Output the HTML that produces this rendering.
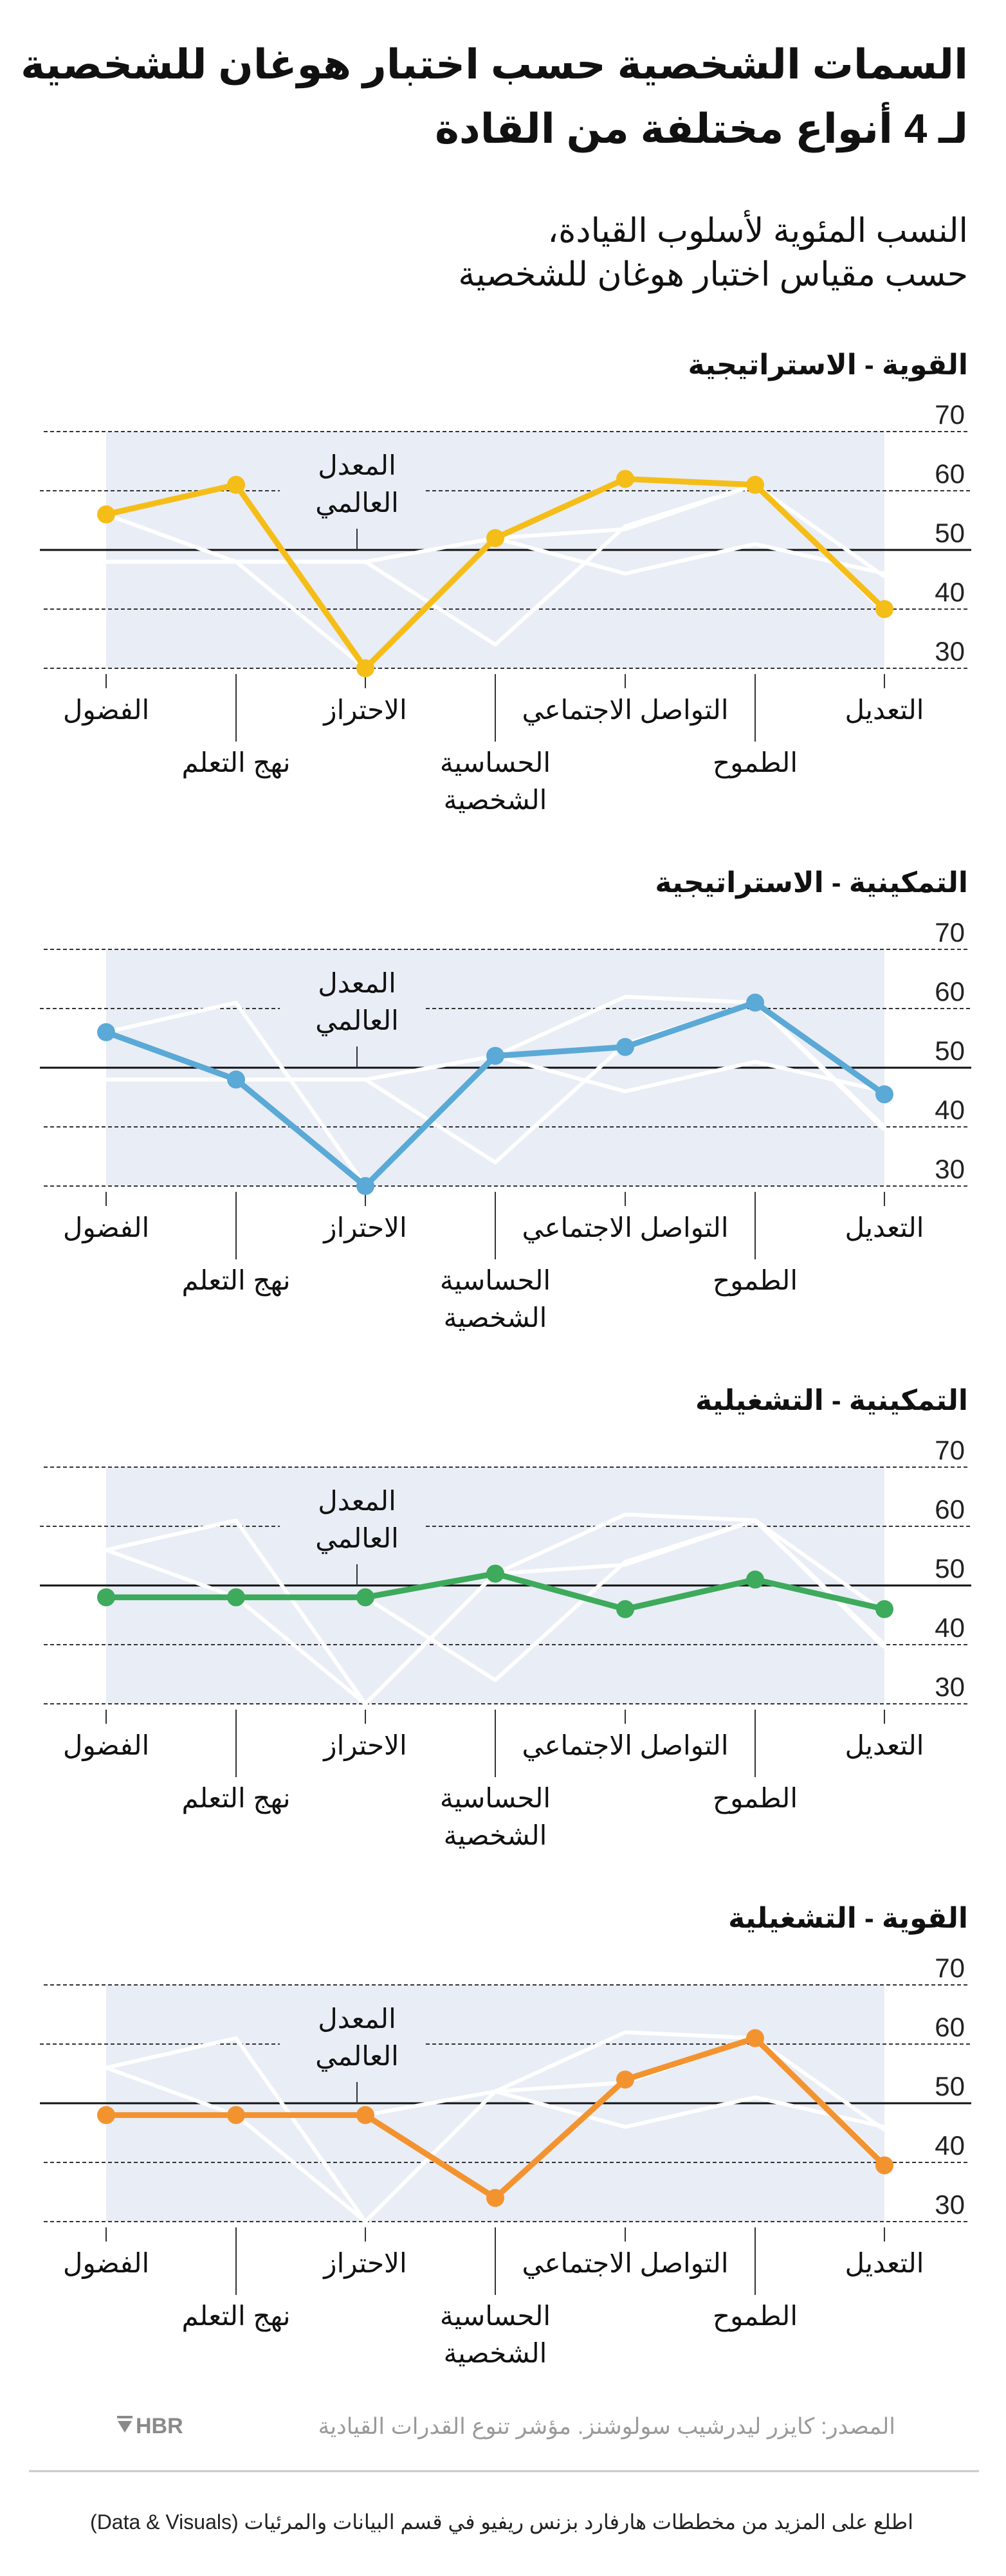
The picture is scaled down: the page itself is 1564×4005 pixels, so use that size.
<!DOCTYPE html>
<html><head><meta charset="utf-8">
<style>
html,body{margin:0;padding:0;background:#fff;}
svg{display:block;}
text{font-family:"Liberation Sans","Noto Sans CJK SC","DejaVu Sans",sans-serif;}
</style></head>
<body>
<svg width="1564" height="4005" viewBox="0 0 1564 4005" xmlns="http://www.w3.org/2000/svg">
<rect width="1564" height="4005" fill="#fff"/>
<text x="1505" y="122" text-anchor="start" font-size="64" font-weight="bold" fill="#111" direction="rtl">السمات الشخصية حسب اختبار هوغان للشخصية</text>
<text x="1505" y="222" text-anchor="start" font-size="64" font-weight="bold" fill="#111" direction="rtl">لـ 4 أنواع مختلفة من القادة</text>
<text x="1505" y="376" text-anchor="start" font-size="52" fill="#111" direction="rtl">النسب المئوية لأسلوب القيادة،</text>
<text x="1505" y="444" text-anchor="start" font-size="52" fill="#111" direction="rtl">حسب مقياس اختبار هوغان للشخصية</text>

<defs>
<g id="frame">
  <rect x="165" y="671" width="1210" height="368" fill="#E9EDF5"/>
  <g stroke="#333" stroke-width="2" stroke-dasharray="6 4">
    <line x1="68" y1="671" x2="1508" y2="671"/>
    <line x1="62" y1="763" x2="435" y2="763"/>
    <line x1="662" y1="763" x2="1508" y2="763"/>
    <line x1="68" y1="947" x2="1508" y2="947"/>
    <line x1="68" y1="1039" x2="1508" y2="1039"/>
  </g>
  <line x1="62" y1="855" x2="1510" y2="855" stroke="#111" stroke-width="3"/>
  <line x1="555" y1="822" x2="555" y2="855" stroke="#333" stroke-width="2"/>
  <g font-size="42" fill="#222" text-anchor="end">
    <text x="1500" y="659">70</text>
    <text x="1500" y="751">60</text>
    <text x="1500" y="843">50</text>
    <text x="1500" y="935">40</text>
    <text x="1500" y="1027">30</text>
  </g>
  <g font-size="42" fill="#111" text-anchor="middle" direction="rtl">
    <text x="555" y="738">المعدل</text>
    <text x="555" y="796">العالمي</text>
  </g>
  <g stroke="#333" stroke-width="2">
    <line x1="165" y1="1048" x2="165" y2="1070"/>
    <line x1="568" y1="1048" x2="568" y2="1070"/>
    <line x1="972" y1="1048" x2="972" y2="1070"/>
    <line x1="1375" y1="1048" x2="1375" y2="1070"/>
    <line x1="367" y1="1048" x2="367" y2="1153"/>
    <line x1="770" y1="1048" x2="770" y2="1153"/>
    <line x1="1174" y1="1048" x2="1174" y2="1153"/>
  </g>
  <g font-size="42" fill="#111" text-anchor="middle" direction="rtl">
    <text x="165" y="1118">الفضول</text>
    <text x="568" y="1118">الاحتراز</text>
    <text x="972" y="1118">التواصل الاجتماعي</text>
    <text x="1375" y="1118">التعديل</text>
    <text x="367" y="1200">نهج التعلم</text>
    <text x="770" y="1200">الحساسية</text>
    <text x="1174" y="1200">الطموح</text>
    <text x="770" y="1258">الشخصية</text>
  </g>
</g>
<polyline id="sY" points="165,799.8 367,753.8 568,1039 770,836.6 972,744.6 1174,753.8 1375,947"/>
<polyline id="sB" points="165,799.8 367,873.4 568,1039 770,836.6 972,822.8 1174,753.8 1375,896.4"/>
<polyline id="sG" points="165,873.4 367,873.4 568,873.4 770,836.6 972,891.8 1174,845.8 1375,891.8"/>
<polyline id="sO" points="165,873.4 367,873.4 568,873.4 770,1002.2 972,818.2 1174,753.8 1375,951.6"/>
</defs>

<!-- Chart 1 -->
<g>
  <text x="1505" y="582" text-anchor="start" font-size="44" font-weight="bold" fill="#111" direction="rtl">القوية - الاستراتيجية</text>
  <use href="#frame"/>
  <g fill="none" stroke="#fff" stroke-width="6" stroke-linejoin="round"><use href="#sB"/><use href="#sG"/><use href="#sO"/></g>
  <g fill="none" stroke="#F5BD18" stroke-width="9" stroke-linejoin="round"><use href="#sY"/></g>
  <g fill="#F5BD18"><circle cx="165" cy="799.8" r="14"/><circle cx="367" cy="753.8" r="14"/><circle cx="568" cy="1039" r="14"/><circle cx="770" cy="836.6" r="14"/><circle cx="972" cy="744.6" r="14"/><circle cx="1174" cy="753.8" r="14"/><circle cx="1375" cy="947" r="14"/></g>
</g>

<!-- Chart 2 -->
<g transform="translate(0,805)">
  <text x="1505" y="582" text-anchor="start" font-size="44" font-weight="bold" fill="#111" direction="rtl">التمكينية - الاستراتيجية</text>
  <use href="#frame"/>
  <g fill="none" stroke="#fff" stroke-width="6" stroke-linejoin="round"><use href="#sY"/><use href="#sG"/><use href="#sO"/></g>
  <g fill="none" stroke="#5AA9D6" stroke-width="9" stroke-linejoin="round"><use href="#sB"/></g>
  <g fill="#5AA9D6"><circle cx="165" cy="799.8" r="14"/><circle cx="367" cy="873.4" r="14"/><circle cx="568" cy="1039" r="14"/><circle cx="770" cy="836.6" r="14"/><circle cx="972" cy="822.8" r="14"/><circle cx="1174" cy="753.8" r="14"/><circle cx="1375" cy="896.4" r="14"/></g>
</g>

<!-- Chart 3 -->
<g transform="translate(0,1610)">
  <text x="1505" y="582" text-anchor="start" font-size="44" font-weight="bold" fill="#111" direction="rtl">التمكينية - التشغيلية</text>
  <use href="#frame"/>
  <g fill="none" stroke="#fff" stroke-width="6" stroke-linejoin="round"><use href="#sY"/><use href="#sB"/><use href="#sO"/></g>
  <g fill="none" stroke="#3DAA5C" stroke-width="9" stroke-linejoin="round"><use href="#sG"/></g>
  <g fill="#3DAA5C"><circle cx="165" cy="873.4" r="14"/><circle cx="367" cy="873.4" r="14"/><circle cx="568" cy="873.4" r="14"/><circle cx="770" cy="836.6" r="14"/><circle cx="972" cy="891.8" r="14"/><circle cx="1174" cy="845.8" r="14"/><circle cx="1375" cy="891.8" r="14"/></g>
</g>

<!-- Chart 4 -->
<g transform="translate(0,2415)">
  <text x="1505" y="582" text-anchor="start" font-size="44" font-weight="bold" fill="#111" direction="rtl">القوية - التشغيلية</text>
  <use href="#frame"/>
  <g fill="none" stroke="#fff" stroke-width="6" stroke-linejoin="round"><use href="#sY"/><use href="#sB"/><use href="#sG"/></g>
  <g fill="none" stroke="#F39330" stroke-width="9" stroke-linejoin="round"><use href="#sO"/></g>
  <g fill="#F39330"><circle cx="165" cy="873.4" r="14"/><circle cx="367" cy="873.4" r="14"/><circle cx="568" cy="873.4" r="14"/><circle cx="770" cy="1002.2" r="14"/><circle cx="972" cy="818.2" r="14"/><circle cx="1174" cy="753.8" r="14"/><circle cx="1375" cy="951.6" r="14"/></g>
</g>

<!-- Footer -->
<text x="1392" y="3784" text-anchor="start" font-size="35" fill="#9a9a9a" direction="rtl">المصدر: كايزر ليدرشيب سولوشنز. مؤشر تنوع القدرات القيادية</text>
<path d="M182 3756 h24 v4 h-24z M183 3764 h22 l-11 18z" fill="#8a8a8a"/>
<text x="211" y="3783" font-size="34" font-weight="bold" fill="#8a8a8a">HBR</text>
<line x1="45" y1="3842" x2="1522" y2="3842" stroke="#c8c8c8" stroke-width="3"/>
<text x="780" y="3932" text-anchor="middle" font-size="32" fill="#222" direction="rtl">اطلع على المزيد من مخططات هارفارد بزنس ريفيو في قسم البيانات والمرئيات (Data &amp; Visuals)</text>
</svg>
</body></html>
